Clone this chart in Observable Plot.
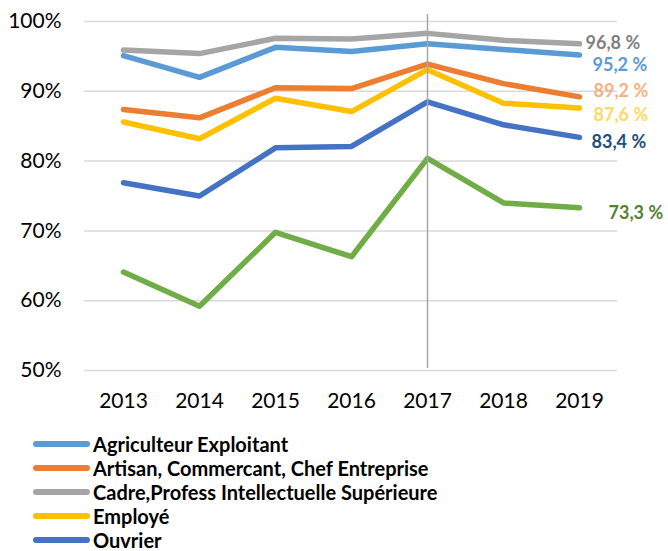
<!DOCTYPE html>
<html>
<head>
<meta charset="utf-8">
<script src="https://cdn.jsdelivr.net/npm/d3@7"></script>
<script src="https://cdn.jsdelivr.net/npm/@observablehq/plot@0.6"></script>
<style>
  body { margin: 0; background: #fff; font-family: Lato, "Open Sans", sans-serif; }
  #legend { padding-top: 7px; }
  .row { display: flex; align-items: center; height: 24px; }
  .sw { width: 57px; height: 6px; border-radius: 3px; margin-left: 33px; margin-right: 3px; }
  .lab { font-weight: bold; font-size: 20px; line-height: 22px; color: #000; white-space: nowrap; }
</style>
</head>
<body>
<div id="chart"></div>
<div id="legend"></div>
<script>
const years = [2013, 2014, 2015, 2016, 2017, 2018, 2019];
const categories = [
  "Agriculteur Exploitant",
  "Artisan, Commercant, Chef Entreprise",
  "Cadre,Profess Intellectuelle Supérieure",
  "Employé",
  "Ouvrier",
  "Autre"
];
const agriculteur = [95.1, 92.0, 96.3, 95.7, 96.8, 96.0, 95.2];
const artisan     = [87.4, 86.2, 90.5, 90.4, 93.9, 91.1, 89.2];
const cadre       = [95.9, 95.4, 97.6, 97.5, 98.3, 97.3, 96.8];
const employe     = [85.6, 83.2, 89.0, 87.1, 93.1, 88.3, 87.6];
const ouvrier     = [76.9, 75.0, 81.9, 82.1, 88.5, 85.2, 83.4];
const autre       = [64.1, 59.2, 69.8, 66.3, 80.4, 74.0, 73.3];
const endLabels   = ["96,8 %", "95,2 %", "89,2 %", "87,6 %", "83,4 %", "73,3 %"];
const yTicks = [50, 60, 70, 80, 90, 100];
const markerYear = 2017;

const seriesValues = [agriculteur, artisan, cadre, employe, ouvrier, autre];
const lineColors = ["#5B9BD5", "#ED7D31", "#A5A5A5", "#FFC000", "#4472C4", "#70AD47"];
// label style: [category index, colour, dx, dy]
const labelStyle = [
  [2, "#7F7F7F", 6, -1],
  [0, "#5B9BD5", 13, 10],
  [1, "#F4B183", 14, -6],
  [3, "#FFD966", 14, 7],
  [4, "#1F4E79", 12, 5],
  [5, "#548235", 29, 5]
];
const labelText = {2: endLabels[0], 0: endLabels[1], 1: endLabels[2], 3: endLabels[3], 4: endLabels[4], 5: endLabels[5]};

const rows = [];
categories.forEach((c, i) => years.forEach((y, j) => rows.push({cat: c, idx: i, year: y, value: seriesValues[i][j]})));

const lineMarks = categories.map((c, i) =>
  Plot.line(rows.filter(d => d.idx === i), {
    x: "year", y: "value", stroke: lineColors[i], strokeWidth: 5.5,
    strokeLinecap: "round", strokeLinejoin: "round"
  })
);

const lastYear = years[years.length - 1];
const labelMarks = labelStyle.map(([i, color, dx, dy]) =>
  Plot.text([{year: lastYear, value: seriesValues[i][years.length - 1], t: labelText[i]}], {
    x: "year", y: "value", text: "t", fill: color, textAnchor: "start",
    dx, dy, fontSize: 18, fontWeight: "bold"
  })
);

const chart = Plot.plot({
  width: 668,
  height: 425,
  marginLeft: 84,
  marginRight: 51,
  marginTop: 21,
  marginBottom: 55,
  style: {fontFamily: "Lato, 'Open Sans', sans-serif", color: "#000", background: "#fff"},
  x: {type: "point", domain: years, padding: 0.5, label: null},
  y: {domain: [50, 100], label: null},
  marks: [
    Plot.ruleY(yTicks, {stroke: "#d9d9d9", strokeWidth: 1.5}),
    Plot.axisY({ticks: yTicks, tickSize: 0, tickPadding: 23, tickFormat: d => d + "%", fontSize: 21, label: null}),
    Plot.axisX({tickSize: 0, tickPadding: 23, tickFormat: d => String(d), fontSize: 21, label: null}),
    ...lineMarks,
    Plot.ruleX([markerYear], {y1: 50.3, y2: 101, stroke: "#a6a6a6", strokeWidth: 1.5}),
    ...labelMarks
  ]
});
document.getElementById("chart").appendChild(chart);

const legend = document.getElementById("legend");
categories.slice(0, 5).forEach((c, i) => {
  const row = document.createElement("div");
  row.className = "row";
  row.innerHTML = `<div class="sw" style="background:${lineColors[i]}"></div><div class="lab">${c}</div>`;
  legend.appendChild(row);
});
</script>
</body>
</html>
